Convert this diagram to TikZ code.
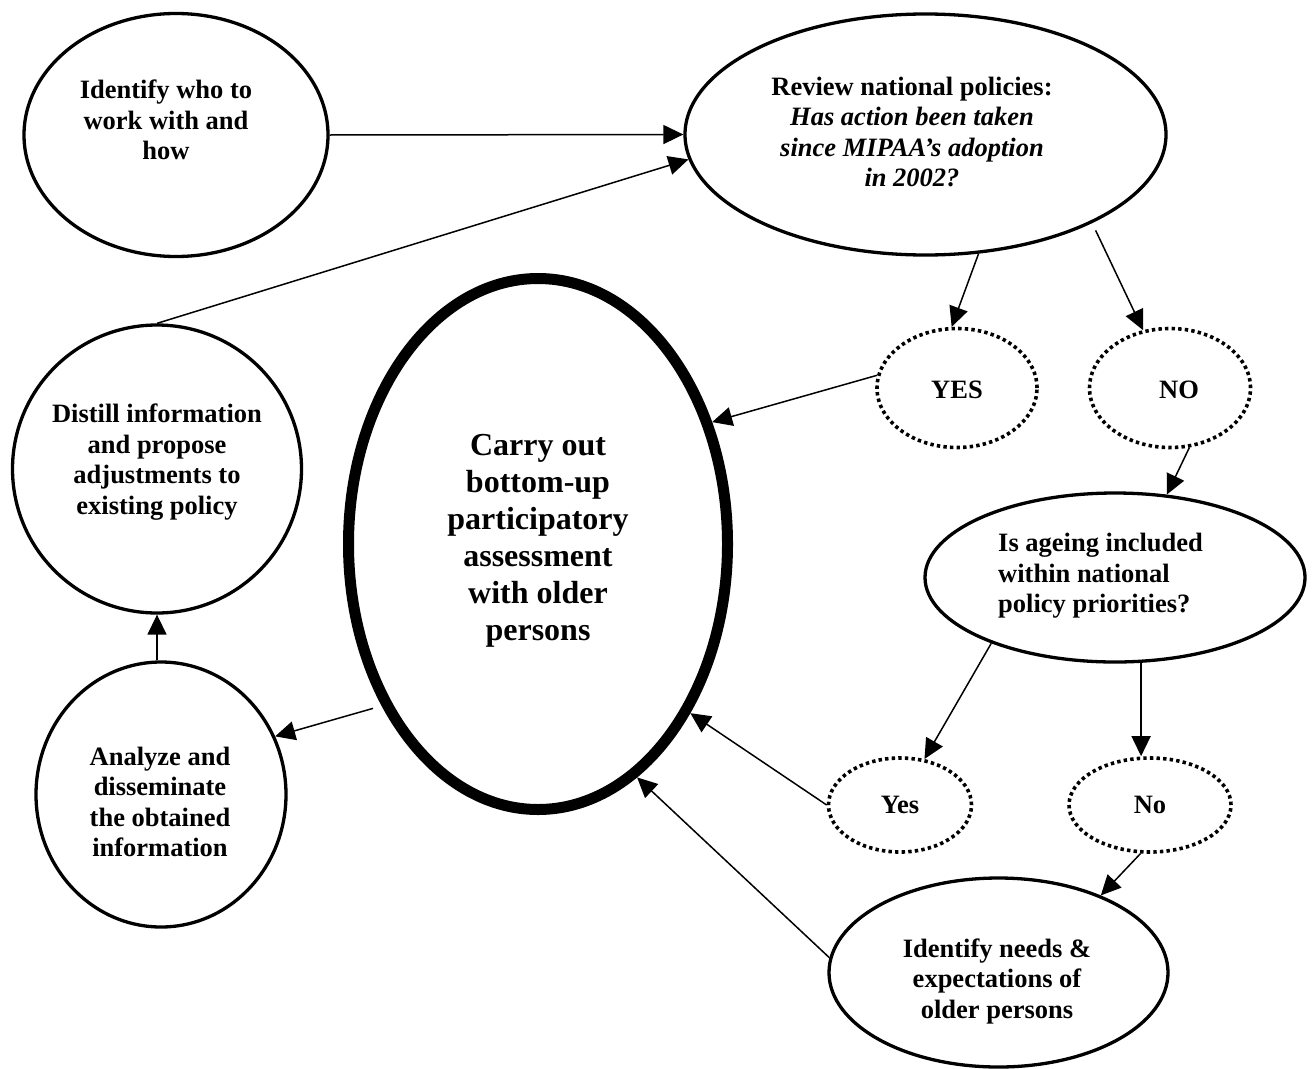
\documentclass[tikz,border=0pt]{standalone}
\usepackage{fontspec}
\setmainfont{Liberation Serif}
\usetikzlibrary{arrows.meta,shapes.geometric}
\begin{document}
\begin{tikzpicture}[x=1pt,y=-1pt,
  ell/.style 2 args={ellipse,draw,line width=3.3pt,inner sep=0pt,minimum width=#1pt,minimum height=#2pt},
  dotell/.style 2 args={ellipse,draw,line width=3.6pt,dash pattern=on 3.4pt off 3.2pt,inner sep=0pt,minimum width=#1pt,minimum height=#2pt},
  arr/.style={line width=1.5pt,-{Triangle[length=20pt,width=19pt]}},
  txt/.style={font=\bfseries\fontsize{26.5}{30.5}\selectfont,align=center,inner sep=0pt},
  bigtxt/.style={font=\bfseries\fontsize{32}{37}\selectfont,align=center,inner sep=0pt}
]
\useasboundingbox[fill=white] (0,0) rectangle (1316,1068);

% shapes
\node[ell={304}{243}] (idw) at (176,135) {};
\node[ell={481}{241}] (rev) at (925.5,134.5) {};
\node[ell={289}{288}] (dist) at (157,469) {};
\node[ell={250}{265}] (anl) at (161,794.5) {};
\node[ell={379}{531},line width=11pt] (big) at (538,544) {};
\node[dotell={160}{119}] (yes1) at (957,388) {};
\node[dotell={161}{119}] (no1) at (1170,388) {};
\node[ell={380}{169}] (age) at (1115,577.5) {};
\node[dotell={143}{94}] (yes2) at (900,805) {};
\node[dotell={162}{94}] (no2) at (1150,805) {};
\node[ell={339}{189}] (need) at (998.5,972.5) {};

% texts
\node[txt] (tidw) at (166,120) {Identify who to\\work with and\\how};
\node[txt] (trev) at (912,132) {Review national policies:\\\itshape Has action been taken\\\itshape since MIPAA’s adoption\\\itshape in 2002?};
\node[txt] (tdist) at (157,462) {Distill information\\and propose\\adjustments to\\existing policy};
\node[txt] (tanl) at (160,802) {Analyze and\\disseminate\\the obtained\\information};
\node[bigtxt] (tbig) at (538,541) {Carry out\\bottom-up\\participatory\\assessment\\with older\\persons};
\node[txt] (tyes1) at (957,390) {YES};
\node[txt] (tno1) at (1179,390) {NO};
\node[txt,align=left,anchor=west] (tage) at (998,576) {Is ageing included\\within national\\policy priorities?};
\node[txt] (tyes2) at (900,805) {Yes};
\node[txt] (tno2) at (1150,805) {No};
\node[txt] (tneed) at (997,981) {Identify needs \&\\expectations of\\older persons};

% connectors
\draw[arr] (idw.east) -- (rev.west);
\draw[arr] (dist.north) -- (rev.186);
\draw[arr] (rev.294) -- (yes1.95);
\draw[arr,shorten <=8pt] (rev.332) -- (no1.115);
\draw[arr] (yes1.171) -- (big.35);
\draw[arr] (no1.288) -- (age.58);
\draw[arr] (age.208) -- (yes2.62);
\draw[arr] (age.287) -- (no2.north -| age.287);
\draw[arr] (yes2.west) -- (big.312);
\draw[arr] (no2.259) -- (need.37);
\draw[arr] (need.175) -- (big.293);
\draw[arr,shorten <=9pt] (big.226) -- (anl.27);
\draw[arr] (anl.north -| dist.south) -- (dist.south);
\end{tikzpicture}
\end{document}
